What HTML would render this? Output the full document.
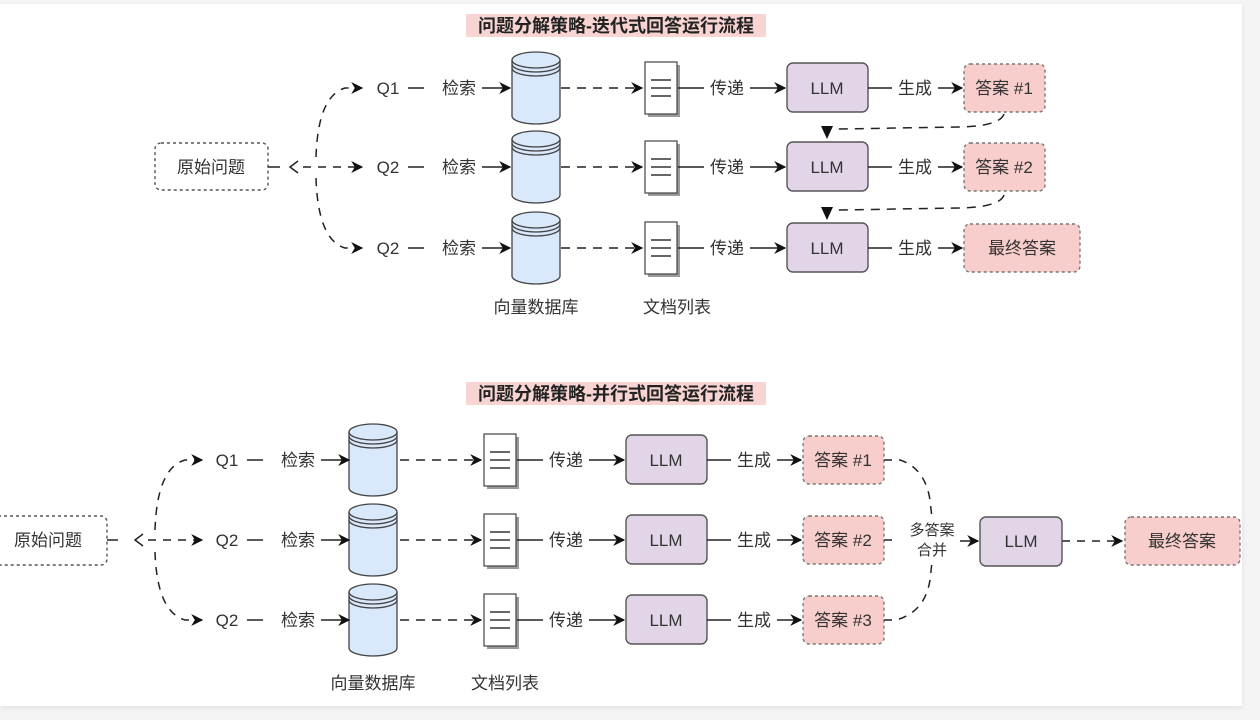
<!DOCTYPE html>
<html><head><meta charset="utf-8"><style>
html,body{margin:0;padding:0;background:#f4f4f4;}
body{width:1260px;height:720px;overflow:hidden;position:relative;}
.card{position:absolute;left:0;top:4px;width:1242px;height:702px;background:#fff;box-shadow:0 2px 6px rgba(0,0,0,0.08);}
svg{position:absolute;left:0;top:0;}
text{font-family:"Liberation Sans","Noto Sans CJK SC",sans-serif;font-size:17px;fill:#333;text-anchor:middle;}
.t{font-size:18px;font-weight:bold;fill:#222;}
</style></head><body>
<div class="card"></div>
<svg width="1260" height="720" viewBox="0 0 1260 720">
<defs>
<marker id="a" viewBox="0 0 10 10" refX="9" refY="5" markerWidth="12" markerHeight="12" markerUnits="userSpaceOnUse" orient="auto"><path d="M0,0 L10,5 L0,10 L3,5 Z" fill="#111"/></marker>
<g id="cyl">
<path d="M0,-28 L0,28 A24,8 0 0 0 48,28 L48,-28" fill="#dae8fc" stroke="#444" stroke-width="1.3"/>
<ellipse cx="24" cy="-28" rx="24" ry="8" fill="#dae8fc" stroke="#444" stroke-width="1.3"/>
<path d="M0,-24 A24,8 0 0 0 48,-24 M0,-20 A24,8 0 0 0 48,-20" fill="none" stroke="#444" stroke-width="1.3"/>
</g>
<g id="doc">
<rect x="3" y="-23" width="32" height="52" fill="#999"/>
<rect x="0" y="-26" width="32" height="52" fill="#fff" stroke="#444" stroke-width="1.2"/>
<path d="M6,-8 H26 M6,0 H26 M6,8 H26" stroke="#333" stroke-width="1.4"/>
</g>
<g id="row">
<path d="M408,0 H424" stroke="#222" stroke-width="1.5"/>
<text x="459" y="6">检索</text>
<path d="M482,0 H510" stroke="#222" stroke-width="1.5" marker-end="url(#a)"/>
<path d="M561,0 H642" stroke="#222" stroke-width="1.5" stroke-dasharray="9,7" marker-end="url(#a)"/>
<use href="#doc" x="645"/>
<path d="M678,0 H704" stroke="#222" stroke-width="1.5"/>
<text x="727" y="6">传递</text>
<path d="M750,0 H785" stroke="#222" stroke-width="1.5" marker-end="url(#a)"/>
<rect x="787" y="-25" width="81" height="49" rx="6" fill="#e1d5e7" stroke="#555" stroke-width="1.4"/>
<text x="827" y="6">LLM</text>
<path d="M868,0 H892" stroke="#222" stroke-width="1.5"/>
<text x="915" y="6">生成</text>
<path d="M938,0 H962" stroke="#222" stroke-width="1.5" marker-end="url(#a)"/>
</g>
</defs>

<rect x="466" y="14" width="300" height="23" fill="#f8d4d2"/>
<text class="t" x="616" y="32">问题分解策略-迭代式回答运行流程</text>

<rect x="155" y="143" width="113" height="47" rx="6" fill="#fff" stroke="#555" stroke-width="1.4" stroke-dasharray="3,3"/>
<text x="211" y="173">原始问题</text>
<g stroke="#222" stroke-width="1.5" fill="none" stroke-dasharray="8,7">
<path d="M268,167 H280" stroke-dasharray="none"/>
<path d="M298,161 L290,167 L298,173" stroke-dasharray="none"/>
<path d="M316,157 Q318,96 345,88 L362,88" marker-end="url(#a)"/>
<path d="M303,167 L362,167" marker-end="url(#a)"/>
<path d="M316,178 Q318,240 345,248 L362,248" marker-end="url(#a)"/>
</g>

<g transform="translate(0,88)">
<text x="388" y="6">Q1</text>
<use href="#cyl" x="512"/>
<use href="#row"/>
<rect x="964" y="-24" width="81" height="48" rx="6" fill="#f8cecc" stroke="#777" stroke-width="1.4" stroke-dasharray="3,3"/>
<text x="1004" y="6">答案 #1</text>
</g>
<g transform="translate(0,167)">
<text x="388" y="6">Q2</text>
<use href="#cyl" x="512"/>
<use href="#row"/>
<rect x="964" y="-24" width="81" height="48" rx="6" fill="#f8cecc" stroke="#777" stroke-width="1.4" stroke-dasharray="3,3"/>
<text x="1004" y="6">答案 #2</text>
</g>
<g transform="translate(0,248)">
<text x="388" y="6">Q2</text>
<use href="#cyl" x="512"/>
<use href="#row"/>
<rect x="964" y="-24" width="116" height="48" rx="6" fill="#f8cecc" stroke="#777" stroke-width="1.4" stroke-dasharray="3,3"/>
<text x="1022" y="6">最终答案</text>
</g>
<g stroke="#222" stroke-width="1.5" fill="none">
<path d="M1004,114 Q1000,126 960,127 L838,129" stroke-dasharray="9,7"/>
<path d="M1004,195 Q1000,207 960,208 L838,210" stroke-dasharray="9,7"/>
</g>
<path d="M821,126 L833,126 L827,139 Z" fill="#111"/>
<path d="M821,207 L833,207 L827,220 Z" fill="#111"/>
<text x="536" y="313">向量数据库</text>
<text x="677" y="313">文档列表</text>

<rect x="466" y="382" width="300" height="23" fill="#f8d4d2"/>
<text class="t" x="616" y="400">问题分解策略-并行式回答运行流程</text>

<rect x="-8" y="516" width="115" height="49" rx="6" fill="#fff" stroke="#555" stroke-width="1.4" stroke-dasharray="3,3"/>
<text x="48" y="546">原始问题</text>
<g stroke="#222" stroke-width="1.5" fill="none" stroke-dasharray="8,7">
<path d="M107,540 H118" stroke-dasharray="none"/>
<path d="M143,534 L135,540 L143,546" stroke-dasharray="none"/>
<path d="M155,530 Q157,468 185,460 L202,460" marker-end="url(#a)"/>
<path d="M148,540 L202,540" marker-end="url(#a)"/>
<path d="M155,552 Q157,612 185,620 L202,620" marker-end="url(#a)"/>
</g>
<g transform="translate(-161,460)">
<text x="388" y="6">Q1</text>
<use href="#cyl" x="510"/>
<use href="#row"/>
<rect x="964" y="-24" width="81" height="48" rx="6" fill="#f8cecc" stroke="#777" stroke-width="1.4" stroke-dasharray="3,3"/>
<text x="1004" y="6">答案 #1</text>
</g>
<g transform="translate(-161,540)">
<text x="388" y="6">Q2</text>
<use href="#cyl" x="510"/>
<use href="#row"/>
<rect x="964" y="-24" width="81" height="48" rx="6" fill="#f8cecc" stroke="#777" stroke-width="1.4" stroke-dasharray="3,3"/>
<text x="1004" y="6">答案 #2</text>
</g>
<g transform="translate(-161,620)">
<text x="388" y="6">Q2</text>
<use href="#cyl" x="510"/>
<use href="#row"/>
<rect x="964" y="-24" width="81" height="48" rx="6" fill="#f8cecc" stroke="#777" stroke-width="1.4" stroke-dasharray="3,3"/>
<text x="1004" y="6">答案 #3</text>
</g>
<g stroke="#222" stroke-width="1.5" fill="none" stroke-dasharray="8,7">
<path d="M884,460 H900 Q925,468 930,500 L932,518"/>
<path d="M884,540 H896"/>
<path d="M884,620 H896 Q925,612 930,580 L932,562"/>
<path d="M1062,541 H1122" marker-end="url(#a)"/>
</g>
<path d="M960,541 H978" stroke="#222" stroke-width="1.5" marker-end="url(#a)"/>
<text x="932" y="535" style="font-size:15px">多答案</text>
<text x="932" y="555" style="font-size:15px">合并</text>
<rect x="980" y="517" width="82" height="49" rx="6" fill="#e1d5e7" stroke="#555" stroke-width="1.4"/>
<text x="1021" y="547">LLM</text>
<rect x="1125" y="517" width="115" height="48" rx="6" fill="#f8cecc" stroke="#777" stroke-width="1.4" stroke-dasharray="3,3"/>
<text x="1182" y="547">最终答案</text>
<text x="373" y="689">向量数据库</text>
<text x="505" y="689">文档列表</text>
</svg>
</body></html>
